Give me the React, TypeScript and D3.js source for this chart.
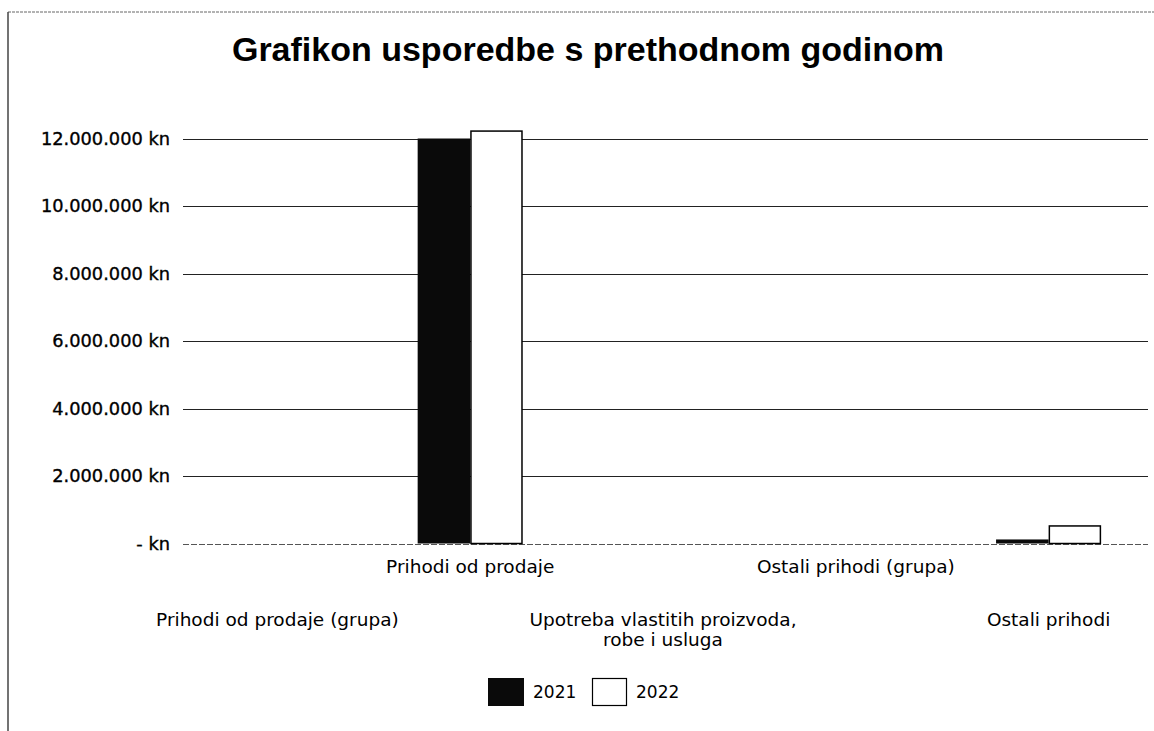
import React from 'react'
import * as d3 from 'd3';

const categories = [
  'Prihodi od prodaje (grupa)',
  'Prihodi od prodaje',
  'Upotreba vlastitih proizvoda, robe i usluga',
  'Ostali prihodi (grupa)',
  'Ostali prihodi'
];
const years = ['2021', '2022'];
const values2021 = [0, 12000000, 0, 0, 120000];
const values2022 = [0, 12220000, 0, 0, 520000];
const yTicks = [0, 2000000, 4000000, 6000000, 8000000, 10000000, 12000000];

const width = 1154;
const height = 731;
const labelFont = "'DejaVu Sans', Verdana, sans-serif";

const hr = d3.formatLocale({ decimal: ',', thousands: '.', grouping: [3], currency: ['', ' kn'] });
const fmt = (v: number) => v === 0 ? '- kn' : hr.format('$,.0f')(v);

// long labels break after the comma, like the original
function splitLabel(s: string) {
  const i = s.indexOf(', ');
  return i < 0 ? [s] : [s.slice(0, i + 1), s.slice(i + 2)];
}

export default function App() {
  const x = d3.scaleBand<string>()
    .domain(categories)
    .range([181, 1145])
    .paddingInner(0.455)
    .paddingOuter(0.2275);

  const xs = d3.scaleBand<string>()
    .domain(years)
    .range([0, x.bandwidth()]);

  const y = d3.scaleLinear()
    .domain([0, 12000000])
    .range([543.5, 138.5]);

  const series = [values2021, values2022];

  return (
    <svg width={width} height={height} style={{ position: 'absolute', left: 0, top: 0, background: '#fff' }}>
      {/* frame of the scanned page */}
      <line x1={8} x2={width} y1={12} y2={12} stroke="#666" strokeDasharray="3,1" />
      <line x1={8} x2={8} y1={12} y2={height} stroke="#444" strokeWidth={1.5} />

      <text x={588} y={61} textAnchor="middle" fontFamily="'Liberation Sans', Arial, sans-serif"
        fontWeight="bold" fontSize={34} fill="#000">
        Grafikon usporedbe s prethodnom godinom
      </text>

      <g>
        {yTicks.map(t => (
          <g key={t}>
            <line x1={183} x2={1148} y1={Math.round(y(t)) + 0.5} y2={Math.round(y(t)) + 0.5}
              stroke={t === 0 ? '#555' : '#222'} strokeDasharray={t === 0 ? '6,2' : undefined} />
            <text x={170} y={y(t)} dy="0.36em" textAnchor="end" fontFamily={labelFont}
              fontSize={17.8} fill="#000" stroke="#000" strokeWidth={0.35}>
              {fmt(t)}
            </text>
          </g>
        ))}
      </g>

      <g>
        {categories.map((c, i) => (
          <g key={c} transform={`translate(${x(c)},0)`}>
            {series.map((vals, j) => vals[i] > 0 && (
              <rect key={j}
                x={xs(years[j])! + (j === 1 ? 0.75 : 0)}
                y={y(vals[i])}
                width={xs.bandwidth() - (j === 1 ? 1.5 : 0)}
                height={y(0) - y(vals[i])}
                fill={j === 0 ? '#0a0a0a' : '#fff'}
                stroke={j === 1 ? '#000' : 'none'}
                strokeWidth={1.5} />
            ))}
          </g>
        ))}
      </g>

      <g>
        {categories.map((c, i) => {
          const cx = x(c)! + x.bandwidth() / 2;
          const base = i % 2 === 1 ? 573 : 626;
          return (
            <text key={c} textAnchor="middle" fontFamily={labelFont} fontSize={18.5} fill="#000">
              {splitLabel(c).map((line, k) => (
                <tspan key={k} x={cx} y={base + k * 20}>{line}</tspan>
              ))}
            </text>
          );
        })}
      </g>

      <g fontFamily={labelFont} fontSize={17}>
        <rect x={488} y={678} width={36} height={28} fill="#0a0a0a" />
        <text x={533} y={692} dy="0.36em" fill="#000">2021</text>
        <rect x={592.5} y={678.5} width={34} height={27} fill="#fff" stroke="#000" strokeWidth={1.2} />
        <text x={636} y={692} dy="0.36em" fill="#000">2022</text>
      </g>
    </svg>
  );
}
